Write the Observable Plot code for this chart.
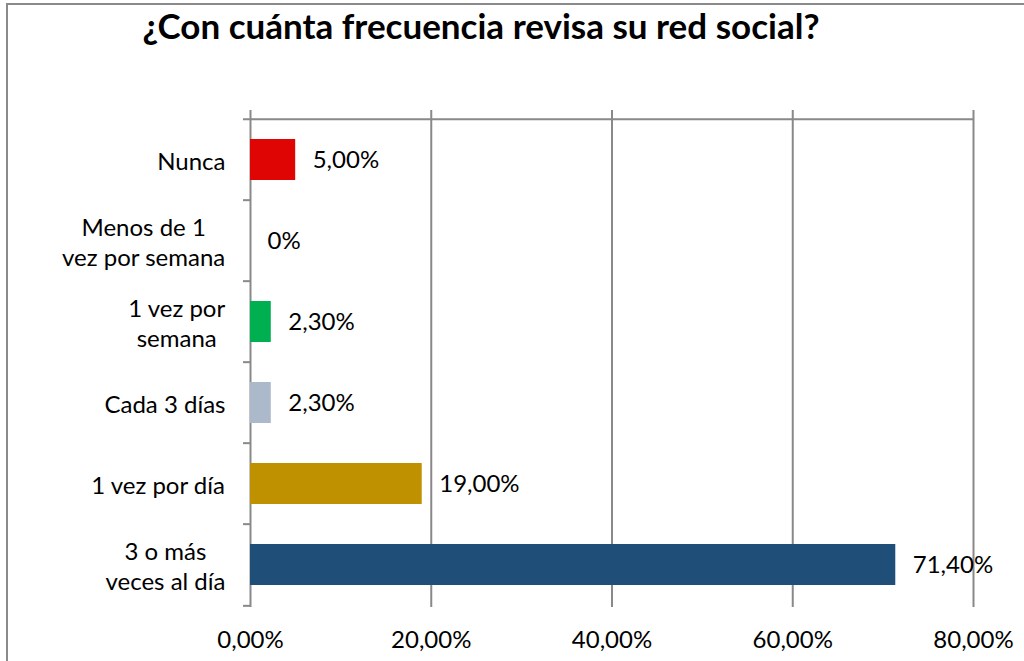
<!DOCTYPE html>
<html><head><meta charset="utf-8">
<script src="https://cdn.jsdelivr.net/npm/d3@7"></script>
<script src="https://cdn.jsdelivr.net/npm/@observablehq/plot@0.6"></script>
<style>
html,body{margin:0;padding:0;background:#fff;overflow:hidden;width:1024px;height:661px;}
#frame{position:absolute;left:6px;top:3px;width:1100px;height:720px;border:2px solid #8a8a8a;box-sizing:border-box;}
#title{position:absolute;left:0;top:0;width:962px;height:62px;text-align:center;font-family:Lato,sans-serif;font-weight:700;font-size:35px;line-height:36px;padding-top:7px;box-sizing:border-box;color:#000;white-space:nowrap;}
#chart{position:absolute;left:0;top:62px;}
</style>
</head><body>
<div id="frame"></div>
<div id="title">¿Con cuánta frecuencia revisa su red social?</div>
<div id="chart"></div>
<script>
const categories = ["Nunca", "Menos de 1\nvez por semana", "1 vez por\nsemana", "Cada 3 días", "1 vez por día", "3 o más\nveces al día"];
const values = [5.0, 0, 2.3, 2.3, 19.0, 71.4];
const colors = ["#df0505", "#ffffff", "#00b050", "#acb9ca", "#bf9000", "#1f4e79"];
const xTicks = [0, 20, 40, 60, 80];

const data = categories.map((c, i) => ({cat: c, value: values[i]}));
const fmt = v => v === 0 ? "0%" : v.toFixed(2).replace(".", ",") + "%";

const W = 1024, H = 599, mt = 55, mb = 54, ml = 250, mr = 51;
const step = (H - mt - mb) / categories.length;
const fs = 24, font = "Lato, sans-serif", grey = "#898989";

const ctx = document.createElement("canvas").getContext("2d");
ctx.font = `${fs}px Lato`;
const labelMarks = categories.map(c => {
  const w = Math.max(...c.split("\n").map(l => ctx.measureText(l).width));
  return Plot.text([c], {y: d => d, text: d => d, frameAnchor: "left", textAnchor: "middle",
    lineAnchor: "middle", lineHeight: 1.25, dx: -(25 + w / 2), fontSize: fs, fill: "#000"});
});

const chart = Plot.plot({
  width: W, height: H, marginTop: mt, marginBottom: mb, marginLeft: ml, marginRight: mr,
  style: {fontFamily: font, fontSize: fs + "px", background: "transparent", overflow: "visible"},
  x: {domain: [0, 80], axis: null},
  y: {domain: categories, axis: null, paddingInner: 0.5, paddingOuter: 0.25},
  color: {domain: categories, range: colors},
  marks: [
    Plot.ruleX(xTicks, {x: d => d, stroke: grey, strokeWidth: 2, insetTop: -7}),
    Plot.ruleY([categories[0]], {y: d => d, dy: -step / 2, stroke: grey, strokeWidth: 2, insetLeft: -7}),
    Plot.ruleY(categories.slice(1), {y: d => d, dy: -step / 2, x1: 0, x2: 0, insetLeft: -7, stroke: grey, strokeWidth: 2}),
    Plot.ruleY([categories[categories.length - 1]], {y: d => d, dy: step / 2, x1: 0, x2: 0, insetLeft: -7, stroke: grey, strokeWidth: 2}),
    Plot.barX(data, {x: "value", y: "cat", fill: "cat"}),
    Plot.text(data, {x: "value", y: "cat", text: d => fmt(d.value), textAnchor: "start", dx: 17, fontSize: fs, fill: "#000"}),
    Plot.text(xTicks, {x: d => d, text: d => d.toFixed(2).replace(".", ",") + "%", frameAnchor: "bottom", lineAnchor: "middle", dy: 33, fontSize: fs, fill: "#000"}),
    ...labelMarks
  ]
});
document.getElementById("chart").appendChild(chart);
</script>
</body></html>
